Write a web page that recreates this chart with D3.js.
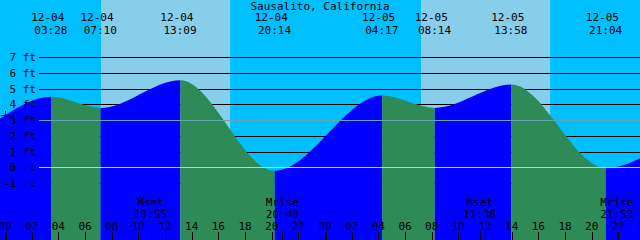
<!DOCTYPE html>
<html>
<head>
<meta charset="utf-8">
<script src="https://cdn.jsdelivr.net/npm/d3@7"></script>
<style>
  body { margin: 0; }
  svg { display: block; }
  text { font-family: "DejaVu Sans Mono", monospace; font-size: 11px; fill: black; }
</style>
</head>
<body>
<svg width="640" height="240"></svg>
<script>
// tide events
var tideTimes   = ["12-04 03:28", "12-04 07:10", "12-04 13:09", "12-04 20:14",
                   "12-05 04:17", "12-05 08:14", "12-05 13:58", "12-05 21:04"];
var tideHeights = [4.47, 3.77, 5.53, -0.22, 4.55, 3.77, 5.25, -0.05];
// curve level at the left edge and the next high past the right edge
var edgeTimes   = ["12-03 23:36", "12-06 05:05"];
var edgeHeights = [3.08, 4.6];

var sunriseTimes = ["12-04 07:12", "12-05 07:12"];
var sunsetTimes  = ["12-04 16:53", "12-05 16:53"];

var moonLabels = ["Mset", "Mrise", "Mset", "Mrise"];
var moonTimes  = ["12-04 10:55", "12-04 20:48", "12-05 11:36", "12-05 21:53"];

var ftTicks = [7, 6, 5, 4, 3, 2, 1, 0, -1];
var hourTicks = d3.range(0, 49, 2);
var title = "Sausalito, California";
var startLevel = 3.3; // "+" marker

var svg = d3.select("svg"),
    width = 640,
    height = 240;

// hours since 12-04 00:00
function hours(s) {
  var day = +s.slice(3, 5), hh = +s.slice(6, 8), mm = +s.slice(9, 11);
  return (day - 4) * 24 + hh + mm / 60;
}

var x = d3.scaleLinear().domain([0, 48]).range([5, 645]);
var y = d3.scaleLinear().domain([0, 7]).range([167.3, 57]);

//////////// SKY ////////////
svg.append("rect").attr("width", width).attr("height", height).attr("fill", "#00bfff");
sunriseTimes.forEach(function(s, i) {
  svg.append("rect")
    .attr("x", x(hours(s)))
    .attr("width", x(hours(sunsetTimes[i])) - x(hours(s)))
    .attr("height", height)
    .attr("fill", "#87ceeb");
});

// black grid lines (behind water)
svg.append("g").selectAll("line")
  .data(ftTicks.filter(function(d) { return d != 0 && d != 3; }))
  .enter().append("line")
  .attr("x1", 39).attr("x2", width)
  .attr("y1", function(d) { return Math.round(y(d)) + 0.5; })
  .attr("y2", function(d) { return Math.round(y(d)) + 0.5; })
  .attr("stroke", "black");

//////////// WATER ////////////
var pts = [{t: hours(edgeTimes[0]), h: edgeHeights[0]}];
tideTimes.forEach(function(s, i) { pts.push({t: hours(s), h: tideHeights[i]}); });
pts.push({t: hours(edgeTimes[1]), h: edgeHeights[1]});

var area = d3.area()
  .x(function(d) { return x(d.t); })
  .y0(height)
  .y1(function(d) { return y(d.h); })
  .curve(d3.curveMonotoneX);

svg.append("clipPath").attr("id", "water")
  .append("path").attr("d", area(pts));

var water = svg.append("g").attr("clip-path", "url(#water)");
for (var i = 0; i < pts.length - 1; i++) {
  water.append("rect")
    .attr("x", x(pts[i].t))
    .attr("width", x(pts[i + 1].t) - x(pts[i].t))
    .attr("height", height)
    .attr("fill", pts[i + 1].h > pts[i].h ? "#0000ff" : "#2e8b57");
}

// datum and mean lines on top
svg.append("line")
  .attr("x1", 39).attr("x2", width)
  .attr("y1", Math.round(y(3)) + 0.5).attr("y2", Math.round(y(3)) + 0.5)
  .attr("stroke", "#62a4b4");
svg.append("line")
  .attr("x1", 39).attr("x2", width)
  .attr("y1", Math.round(y(0)) + 0.5).attr("y2", Math.round(y(0)) + 0.5)
  .attr("stroke", "#a6d8ea");

// ft labels
svg.append("g").selectAll("text")
  .data(ftTicks)
  .enter().append("text")
  .attr("x", 36)
  .attr("y", function(d) { return y(d) + 4; })
  .attr("text-anchor", "end")
  .text(function(d) { return d + " ft"; });

// "+" mark
svg.append("path")
  .attr("d", "M1," + (Math.round(y(startLevel)) + 0.5) + "H10M5.5," + (Math.round(y(startLevel)) - 4) + "V" + (Math.round(y(startLevel)) + 5))
  .attr("stroke", "black");

//////////// TEXT ////////////
svg.append("text")
  .attr("x", 320).attr("y", 10)
  .attr("text-anchor", "middle")
  .text(title);

var events = svg.append("g").selectAll("g")
  .data(tideTimes)
  .enter().append("g");
events.append("text")
  .attr("x", function(d) { return x(hours(d)) - 3.5; })
  .attr("y", 21)
  .attr("text-anchor", "middle")
  .text(function(d) { return d.slice(0, 5); });
events.append("text")
  .attr("x", function(d) { return x(hours(d)) - 0.3; })
  .attr("y", 33.5)
  .attr("text-anchor", "middle")
  .text(function(d) { return d.slice(6); });

// moon rise / set
var moon = svg.append("g").selectAll("g")
  .data(moonTimes)
  .enter().append("g");
moon.append("text")
  .attr("x", function(d) { return x(hours(d)); })
  .attr("y", 206)
  .attr("text-anchor", "middle")
  .text(function(d, i) { return moonLabels[i]; });
moon.append("text")
  .attr("x", function(d) { return x(hours(d)); })
  .attr("y", 218)
  .attr("text-anchor", "middle")
  .text(function(d) { return d.slice(6); });
moon.append("line")
  .attr("x1", function(d) { return Math.round(x(hours(d))) + 0.5; })
  .attr("x2", function(d) { return Math.round(x(hours(d))) + 0.5; })
  .attr("y1", 232).attr("y2", height)
  .attr("stroke", "black");

// hour axis
var hourAxis = svg.append("g");
hourAxis.selectAll("text")
  .data(hourTicks)
  .enter().append("text")
  .attr("x", function(d) { return x(d); })
  .attr("y", 230)
  .attr("text-anchor", "middle")
  .text(function(d) { return d3.format("02")(d % 24); });
hourAxis.selectAll("rect")
  .data(hourTicks)
  .enter().append("rect")
  .attr("x", function(d) { return Math.round(x(d)); })
  .attr("y", 232)
  .attr("width", function(d) { return d % 24 == 0 ? 2 : 1; })
  .attr("height", height - 232)
  .attr("fill", "black");
</script>
</body>
</html>
